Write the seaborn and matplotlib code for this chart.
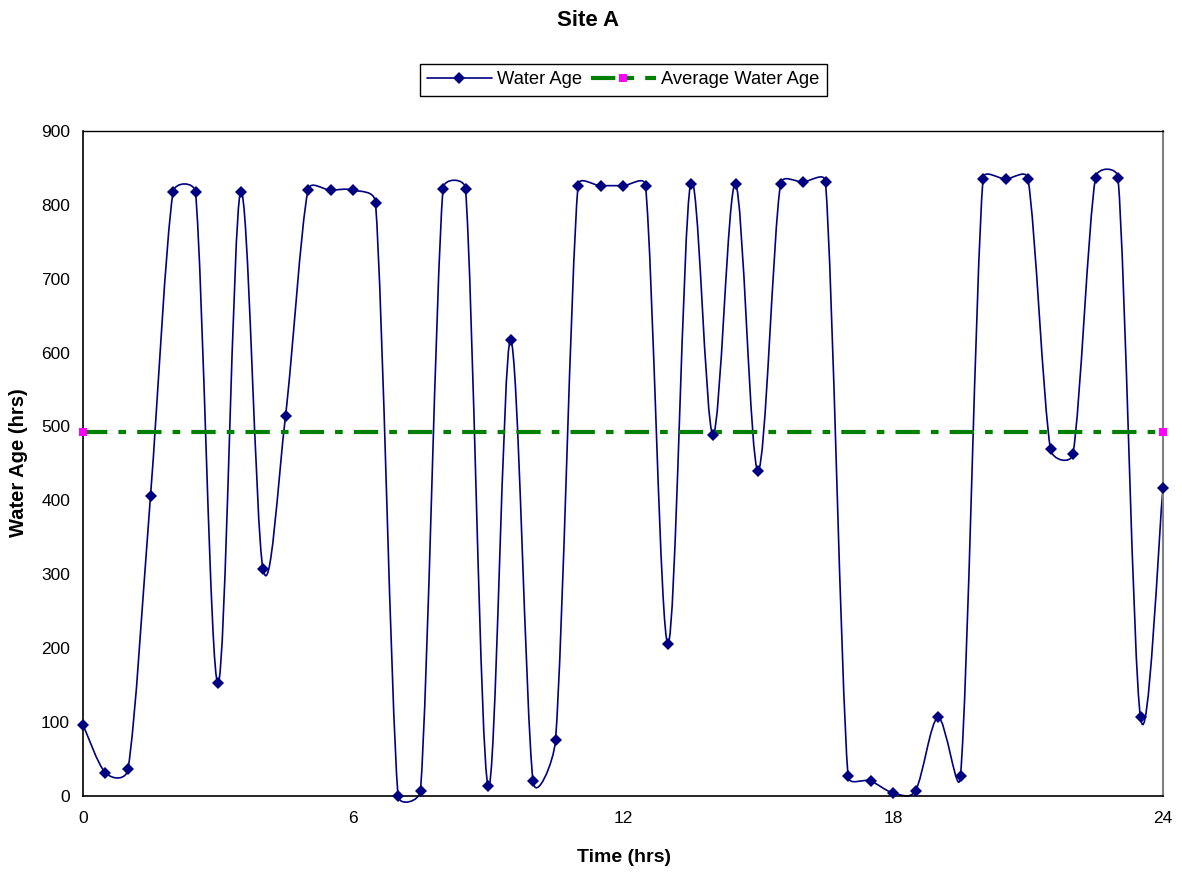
import numpy as np
import pandas as pd
import matplotlib
matplotlib.use("Agg")
import matplotlib.pyplot as plt
from matplotlib.path import Path
from matplotlib.patches import PathPatch
from matplotlib.lines import Line2D
import seaborn as sns

# ---------------- data ----------------
time_hrs = [0.0, 0.5, 1.0, 1.5, 2.0, 2.5, 3.0, 3.5, 4.0, 4.5,
            5.0, 5.5, 6.0, 6.5, 7.0, 7.5, 8.0, 8.5, 9.0, 9.5,
            10.0, 10.5, 11.0, 11.5, 12.0, 12.5, 13.0, 13.5, 14.0, 14.5,
            15.0, 15.5, 16.0, 16.5, 17.0, 17.5, 18.0, 18.5, 19.0, 19.5,
            20.0, 20.5, 21.0, 21.5, 22.0, 22.5, 23.0, 23.5, 24.0]
water_age = [96, 31, 36, 406, 817, 817, 152, 817, 307, 514,
             820, 820, 820, 803, 0, 7, 822, 822, 13, 617,
             20, 75, 826, 826, 826, 826, 206, 828, 489, 828,
             440, 828, 831, 831, 27, 20, 4, 7, 106, 27,
             835, 835, 835, 469, 463, 837, 837, 106, 417]
average_water_age = 492
avg_times = [0, 24]
x_ticks = [0, 6, 12, 18, 24]
y_ticks = [0, 100, 200, 300, 400, 500, 600, 700, 800, 900]

title = "Site A"
x_label = "Time (hrs)"
y_label = "Water Age (hrs)"
series_labels = ["Water Age", "Average Water Age"]

NAVY = "#000080"
GREEN = "#008000"
MAGENTA = "#FF00FF"

# ---------------- style ----------------
sns.set_style("white")
plt.rcParams["font.family"] = ["Liberation Sans", "DejaVu Sans"]
plt.rcParams["text.color"] = "black"
plt.rcParams["axes.labelcolor"] = "black"
plt.rcParams["xtick.color"] = "black"
plt.rcParams["ytick.color"] = "black"

W, H = 1182, 872
fig = plt.figure(figsize=(W / 100, H / 100), dpi=100)
ax = fig.add_axes([83 / W, 1 - 795.7 / H, (1163 - 83) / W, (795.7 - 131) / H])

ax.set_xlim(x_ticks[0], x_ticks[-1])
ax.set_ylim(y_ticks[0], y_ticks[-1])

df = pd.DataFrame({"time": time_hrs, "age": water_age})

# smoothed connecting curve (Excel-style Bezier smoothing, drawn by matplotlib)
def smooth_path(xs, ys, f=1 / 6, cap=0.5):
    pts = ax.transData.transform(np.column_stack([xs, ys]))
    n = len(pts)
    verts = [pts[0]]
    codes = [Path.MOVETO]
    for i in range(n - 1):
        p0 = pts[max(i - 1, 0)]
        p1 = pts[i]
        p2 = pts[i + 1]
        p3 = pts[min(i + 2, n - 1)]
        seg = np.hypot(*(p2 - p1))
        t1 = p2 - p0
        t2 = p3 - p1
        n1 = np.hypot(*t1) or 1.0
        n2 = np.hypot(*t2) or 1.0
        l1 = min(f * n1, cap * seg)
        l2 = min(f * n2, cap * seg)
        c1 = p1 + l1 * t1 / n1
        c2 = p2 - l2 * t2 / n2
        verts += [c1, c2, p2]
        codes += [Path.CURVE4] * 3
    verts = ax.transData.inverted().transform(np.array(verts))
    return Path(verts, codes)

patch = PathPatch(smooth_path(time_hrs, water_age), facecolor="none",
                  edgecolor=NAVY, lw=1.2, transform=ax.transData,
                  clip_on=False, zorder=2)
ax.add_patch(patch)

# markers of Water Age
sns.lineplot(data=df, x="time", y="age", ax=ax, color=NAVY, linestyle="",
             marker="D", markersize=6.5, markeredgewidth=0,
             markerfacecolor=NAVY, legend=False, clip_on=False, zorder=4)

# average line
dash = (0, (17.5 / 3, 8 / 3, 5.5 / 3, 8 / 3))
sns.lineplot(x=avg_times, y=[average_water_age] * len(avg_times), ax=ax,
             color=GREEN, lw=3, linestyle=dash, marker="s", markersize=6,
             markerfacecolor=MAGENTA, markeredgecolor=MAGENTA,
             markeredgewidth=0, legend=False, clip_on=False, zorder=3)

# axes
ax.set_xticks(x_ticks)
ax.set_yticks(y_ticks)
ax.set_xticklabels([str(t) for t in x_ticks])
ax.set_yticklabels([str(t) for t in y_ticks])
ax.tick_params(axis="both", direction="out", length=3.3, width=1,
               color="black", labelsize=12.5, labelcolor="black")
ax.tick_params(axis="y", pad=6)
ax.tick_params(axis="x", pad=8)
ax.set_xlabel("")
ax.set_ylabel("")
for side in ["left", "bottom", "top"]:
    ax.spines[side].set_color("black")
    ax.spines[side].set_linewidth(1.2)
ax.spines["right"].set_color("#808080")
ax.spines["right"].set_linewidth(1.5)
ax.spines["top"].set_linewidth(1.0)
ax.grid(False)

# titles
fig.text(588.5 / W, 1 - 20 / H, title, ha="center", va="center",
         fontsize=16, fontweight="bold", color="black")
fig.text(624 / W, 1 - 857 / H, x_label, ha="center", va="center",
         fontsize=14, fontweight="bold", color="black")
fig.text(18.5 / W, 1 - 463 / H, y_label, ha="center", va="center",
         rotation=90, fontsize=14.5, fontweight="bold", color="black")

# legend
handles = [
    Line2D([], [], color=NAVY, lw=1.2, marker="D", markersize=6.5,
           markeredgewidth=0, markerfacecolor=NAVY),
    Line2D([], [], color=GREEN, lw=3, linestyle=dash, marker="s",
           markersize=6, markerfacecolor=MAGENTA, markeredgecolor=MAGENTA,
           markeredgewidth=0),
]
leg = fig.legend(handles, series_labels, loc="center",
                 bbox_to_anchor=(623.4 / W, 1 - 79.7 / H), ncol=2,
                 frameon=True, fancybox=False, shadow=False,
                 edgecolor="black", framealpha=1, fontsize=13.2,
                 handlelength=3.5, handletextpad=0.3, columnspacing=0.5,
                 borderpad=0.4, numpoints=1)
leg.get_frame().set_linewidth(1.0)
for t in leg.get_texts():
    t.set_color("black")

fig.savefig("out.png", dpi=100, facecolor="white")
